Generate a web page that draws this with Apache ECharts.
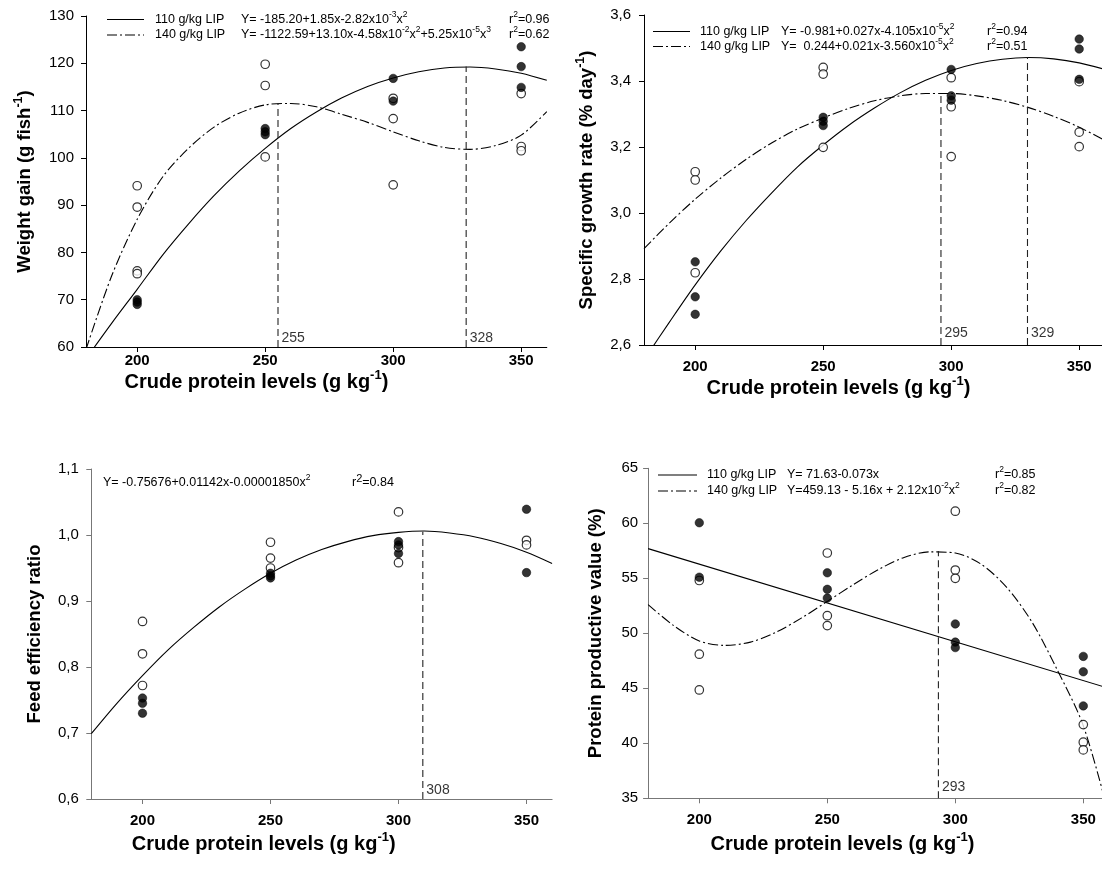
<!DOCTYPE html>
<html><head><meta charset="utf-8">
<script src="https://cdn.jsdelivr.net/npm/echarts@6/dist/echarts.min.js"></script>
<style>html,body{margin:0;padding:0;background:#fff}#c{width:1102px;height:874px}</style>
</head><body><div id="c"></div>
<script>
// ---------------- DATA ----------------
const X_TICKS = [200, 250, 300, 350];
const CURVE_X = [180,190,200,210,220,230,240,250,260,270,280,290,300,310,320,330,340,350,360];

// Panel A: weight gain
const WG_FIT_110 = [57.5,65.0,72.2,79.5,86.0,92.0,97.3,102.0,106.2,109.7,112.7,115.1,116.9,118.2,119.0,119.2,118.8,117.9,116.4];
const WG_FIT_140 = [59.5,75.0,87.0,96.0,102.0,106.5,109.5,111.2,111.5,110.8,109.2,107.5,105.5,103.6,102.2,101.8,102.6,104.8,109.8];
const WG_FILLED = [[200,70.0],[200,69.5],[200,69.0],[250,106.2],[250,105.5],[250,104.9],[300,116.8],[300,112.0],[350,123.5],[350,119.3],[350,114.9]];
const WG_OPEN = [[200,94.1],[200,89.6],[200,76.1],[200,75.5],[250,119.8],[250,115.3],[250,100.2],[300,112.6],[300,108.3],[300,94.3],[350,113.6],[350,102.4],[350,101.5]];
const WG_OPT_X = [255, 328.5];
const WG_OPT_TOP = [111.6, 119.3];
const WG_OPT_LABEL = ['255', '328'];

// Panel B: specific growth rate
const SGR_FIT_110 = [2.555,2.670,2.782,2.885,2.978,3.062,3.140,3.206,3.266,3.318,3.364,3.402,3.432,3.453,3.466,3.471,3.467,3.455,3.435];
const SGR_FIT_140 = [2.892,2.970,3.042,3.106,3.163,3.213,3.255,3.288,3.317,3.340,3.355,3.362,3.362,3.355,3.341,3.320,3.293,3.260,3.220];
const SGR_FILLED = [[200,2.852],[200,2.746],[200,2.693],[250,3.290],[250,3.278],[250,3.265],[300,3.435],[300,3.355],[300,3.342],[350,3.527],[350,3.497],[350,3.405]];
const SGR_OPEN = [[200,3.125],[200,3.100],[200,2.819],[250,3.441],[250,3.421],[250,3.199],[300,3.410],[300,3.322],[300,3.171],[350,3.398],[350,3.245],[350,3.201]];
const SGR_OPT_X = [296, 329.8];
const SGR_OPT_TOP = [3.363, 3.472];
const SGR_OPT_LABEL = ['295', '329'];

// Panel C: feed efficiency ratio
const FER_FIT = [0.699,0.745,0.787,0.826,0.860,0.891,0.918,0.942,0.962,0.978,0.990,0.999,1.004,1.006,1.003,0.997,0.987,0.974,0.957];
const FER_FILLED = [[200,0.753],[200,0.745],[200,0.730],[250,0.942],[250,0.938],[250,0.935],[300,0.990],[300,0.985],[300,0.972],[350,1.039],[350,0.943]];
const FER_OPEN = [[200,0.869],[200,0.820],[200,0.772],[250,0.989],[250,0.965],[250,0.950],[300,1.035],[300,0.981],[300,0.958],[350,0.992],[350,0.985]];
const FER_OPT_X = [309.5];
const FER_OPT_TOP = [1.005];
const FER_OPT_LABEL = ['308'];

// Panel D: protein productive value
const PPV_FIT_110_X = [180, 360];
const PPV_FIT_110 = [57.7, 45.0];
const PPV_FIT_140 = [52.6,50.7,49.3,48.9,49.2,50.1,51.4,52.9,54.4,55.8,56.9,57.4,57.3,56.3,54.2,51.0,46.6,41.6,33.5];
const PPV_FILLED = [[200,60.05],[200,55.1],[250,55.5],[250,54.0],[250,53.2],[300,50.85],[300,49.2],[300,48.7],[350,47.9],[350,46.5],[350,43.4]];
const PPV_OPEN = [[200,54.8],[200,48.1],[200,44.85],[250,57.3],[250,51.6],[250,50.7],[300,61.1],[300,55.75],[300,55.0],[350,41.7],[350,40.1],[350,39.4]];
const PPV_OPT_X = [293.4];
const PPV_OPT_TOP = [57.48];
const PPV_OPT_LABEL = ['293'];

// Axis ranges and texts
const Y_MIN = [60, 2.6, 0.6, 35];
const Y_MAX = [130, 3.6, 1.1, 65];
const Y_STEP = [10, 0.2, 0.1, 5];
const Y_DECIMALS = [0, 1, 1, 0];
const X_NAME = '{b|Crude protein levels (g kg}{s|-1}{b|)}';
const Y_NAMES = ['{b|Weight gain (g fish}{s|-1}{b|)}', '{b|Specific growth rate (% day}{s|-1}{b|)}', '{b|Feed efficiency ratio}', '{b|Protein productive value (%)}'];
const SERIES_NAMES = ['110 g/kg LIP', '140 g/kg LIP'];
const WG_EQ = ['{n|Y= -185.20+1.85x-2.82x10}{s|-3}{n|x}{s|2}', '{n|Y= -1122.59+13.10x-4.58x10}{s|-2}{n|x}{s|2}{n|+5.25x10}{s|-5}{n|x}{s|3}'];
const WG_R2 = ['0.96', '0.62'];
const SGR_EQ = ['{n|Y= -0.981+0.027x-4.105x10}{s|-5}{n|x}{s|2}', '{n|Y=  0.244+0.021x-3.560x10}{s|-5}{n|x}{s|2}'];
const SGR_R2 = ['0.94', '0.51'];
const FER_EQ = ['{n|Y= -0.75676+0.01142x-0.00001850x}{s|2}'];
const FER_R2 = ['0.84'];
const PPV_EQ = ['{n|Y= 71.63-0.073x}', '{n|Y=459.13 - 5.16x + 2.12x10}{s|-2}{n|x}{s|2}'];
const PPV_R2 = ['0.85', '0.82'];

// ---------------- LAYOUT / STYLE ----------------
const FONT = '"Liberation Sans", Arial, sans-serif';
const DASHDOT = [10, 3, 2, 3];
const GRIDS = [
  {left: 86, top: 16, width: 460.8, height: 331},
  {left: 644, top: 15, width: 460.8, height: 330},
  {left: 91.3, top: 469, width: 460.8, height: 330},
  {left: 648.1, top: 468.3, width: 460.8, height: 330}
];
const AXIS_COLOR = ['#000', '#000', '#777', '#777'];
const X_LABEL_MARGIN = [6, 14, 14, 14];
const X_NAME_GAP = [20, 27, 32, 33];
const X_NAME_SHIFT = [120, 72, 116, 72];
const Y_LABEL_MARGIN = [12, 13, 12.5, 10];
const Y_NAME_GAP = [48, 44, 46.5, 42.5];
const OPT_LABEL_DY = [-9, -12, -9, -11];

const richX = {
  b: {fontFamily: FONT, fontWeight: 'bold', fontSize: 20, color: '#000'},
  s: {fontFamily: FONT, fontWeight: 'bold', fontSize: 13, color: '#000', padding: [0, 0, 14, 0]}
};
const richY = {
  b: {fontFamily: FONT, fontWeight: 'bold', fontSize: 18.5, color: '#000'},
  s: {fontFamily: FONT, fontWeight: 'bold', fontSize: 12.5, color: '#000', padding: [0, 0, 13, 0]}
};
const richEq = {
  n: {fontFamily: FONT, fontSize: 12.5, color: '#000'},
  s: {fontFamily: FONT, fontSize: 8.5, color: '#000', padding: [0, 0, 10, 0]}
};

function pairs(xs, ys) { return xs.map((x, i) => [x, ys[i]]); }

function curve(gi, name, xs, ys, dashed, smooth) {
  return {type: 'line', name: name, xAxisIndex: gi, yAxisIndex: gi, data: pairs(xs, ys),
    symbol: 'none', smooth: smooth, silent: true, z: 2, clip: true,
    lineStyle: {color: '#000', width: 1.1, type: dashed ? DASHDOT : 'solid'}};
}
function points(gi, data, filled) {
  return {type: 'scatter', xAxisIndex: gi, yAxisIndex: gi, data: data, symbol: 'circle',
    symbolSize: 8.5, z: 4, silent: true,
    itemStyle: filled ? {color: '#000', borderColor: '#000', borderWidth: 0.6}
                      : {color: '#fff', borderColor: '#000', borderWidth: 1.2}};
}
function optLines(gi, xs, tops, labels) {
  const out = xs.map((x, i) => ({type: 'line', xAxisIndex: gi, yAxisIndex: gi,
    data: [[x, Y_MIN[gi]], [x, tops[i]]], symbol: 'none', silent: true, z: 3,
    lineStyle: {color: '#222', width: 1.1, type: [7, 4]}}));
  out.push({type: 'scatter', xAxisIndex: gi, yAxisIndex: gi, data: xs.map(x => [x, Y_MIN[gi]]),
    symbolSize: 1, itemStyle: {color: 'rgba(0,0,0,0)'}, silent: true, z: 5,
    label: {show: true, position: 'right', distance: 3, offset: [0, OPT_LABEL_DY[gi]],
      formatter: p => labels[p.dataIndex], fontFamily: FONT, fontSize: 14, color: '#000'}});
  return out;
}

const xAxes = GRIDS.map((g, i) => ({
  type: 'value', gridIndex: i, min: 180, max: 360,
  axisLine: {show: true, onZero: false, lineStyle: {color: AXIS_COLOR[i], width: 1}},
  axisTick: {show: true, inside: false, length: 5, customValues: X_TICKS, lineStyle: {color: AXIS_COLOR[i], width: 1}},
  axisLabel: {customValues: X_TICKS, margin: X_LABEL_MARGIN[i], fontFamily: FONT, fontSize: 15, fontWeight: 'bold', color: '#000'},
  splitLine: {show: false},
  name: X_NAME, nameLocation: 'middle', nameGap: X_NAME_GAP[i],
  nameTextStyle: {fontFamily: FONT, fontWeight: 'bold', fontSize: 20, color: '#000', rich: richX,
    padding: [0, X_NAME_SHIFT[i], 0, 0]}
}));
const yAxes = GRIDS.map((g, i) => ({
  type: 'value', gridIndex: i, min: Y_MIN[i], max: Y_MAX[i], interval: Y_STEP[i],
  axisLine: {show: true, onZero: false, lineStyle: {color: AXIS_COLOR[i], width: 1}},
  axisTick: {show: true, inside: false, length: 5, lineStyle: {color: AXIS_COLOR[i], width: 1}},
  axisLabel: {margin: Y_LABEL_MARGIN[i], fontFamily: FONT, fontSize: 15, color: '#000',
    formatter: v => Number(v).toFixed(Y_DECIMALS[i]).replace('.', ',')},
  splitLine: {show: false},
  name: Y_NAMES[i], nameLocation: 'middle', nameGap: Y_NAME_GAP[i], nameRotate: 90,
  nameTextStyle: {fontFamily: FONT, fontWeight: 'bold', fontSize: 18.5, color: '#000', rich: richY}
}));

const series = [].concat(
  curve(0, SERIES_NAMES[0], CURVE_X, WG_FIT_110, false, 0.3),
  curve(0, SERIES_NAMES[1], CURVE_X, WG_FIT_140, true, 0.3),
  optLines(0, WG_OPT_X, WG_OPT_TOP, WG_OPT_LABEL),
  points(0, WG_OPEN, false), points(0, WG_FILLED, true),

  curve(1, SERIES_NAMES[0], CURVE_X, SGR_FIT_110, false, 0.3),
  curve(1, SERIES_NAMES[1], CURVE_X, SGR_FIT_140, true, 0.3),
  optLines(1, SGR_OPT_X, SGR_OPT_TOP, SGR_OPT_LABEL),
  points(1, SGR_OPEN, false), points(1, SGR_FILLED, true),

  curve(2, 'fit', CURVE_X, FER_FIT, false, 0.3),
  optLines(2, FER_OPT_X, FER_OPT_TOP, FER_OPT_LABEL),
  points(2, FER_OPEN, false), points(2, FER_FILLED, true),

  curve(3, SERIES_NAMES[0], PPV_FIT_110_X, PPV_FIT_110, false, false),
  curve(3, SERIES_NAMES[1], CURVE_X, PPV_FIT_140, true, 0.3),
  optLines(3, PPV_OPT_X, PPV_OPT_TOP, PPV_OPT_LABEL),
  points(3, PPV_OPEN, false), points(3, PPV_FILLED, true)
);

// legend / equation annotations
function txt(x, y, text, rich) {
  return {type: 'text', x: x, y: y, silent: true, z: 10,
    style: {text: text, rich: rich, fill: '#000', fontFamily: FONT, fontSize: 12.5, align: 'left', verticalAlign: 'middle'}};
}
function sample(x1, x2, y, dashed) {
  return {type: 'line', silent: true, z: 10, shape: {x1: x1, y1: y, x2: x2, y2: y},
    style: {stroke: '#000', lineWidth: 1.1, lineDash: dashed ? DASHDOT : null}};
}
const R2 = r => '{n|r}{s|2}{n|=' + r + '}';
function legendBlock(ys, sx1, sx2, tx, ex, rx, eqs, r2s) {
  const out = [];
  ys.forEach((y, i) => {
    out.push(sample(sx1, sx2, y, i === 1));
    out.push(txt(tx, y, '{n|' + SERIES_NAMES[i] + '}', richEq));
    out.push(txt(ex, y, eqs[i], richEq));
    out.push(txt(rx[i], y, R2(r2s[i]), richEq));
  });
  return out;
}
const richBigR = {
  n: richEq.n,
  s: {fontFamily: FONT, fontSize: 11, color: '#000', padding: [0, 0, 8, 0]}
};
const graphic = [].concat(
  legendBlock([19.5, 35], 107, 144, 155, 241, [509, 509], WG_EQ, WG_R2),
  legendBlock([31.5, 46.5], 653, 690, 700, 781, [987, 987], SGR_EQ, SGR_R2),
  [txt(103, 483, FER_EQ[0], richEq), txt(352, 483, R2(FER_R2[0]), richBigR)],
  legendBlock([475, 491], 658, 697, 707, 787, [995, 995], PPV_EQ, PPV_R2)
);

const chart = echarts.init(document.getElementById('c'), null, {renderer: 'canvas'});
chart.setOption({
  backgroundColor: '#fff',
  animation: false,
  grid: GRIDS.map(g => Object.assign({containLabel: false, outerBoundsMode: 'none'}, g)),
  xAxis: xAxes,
  yAxis: yAxes,
  series: series,
  graphic: graphic
});
</script>
</body></html>
